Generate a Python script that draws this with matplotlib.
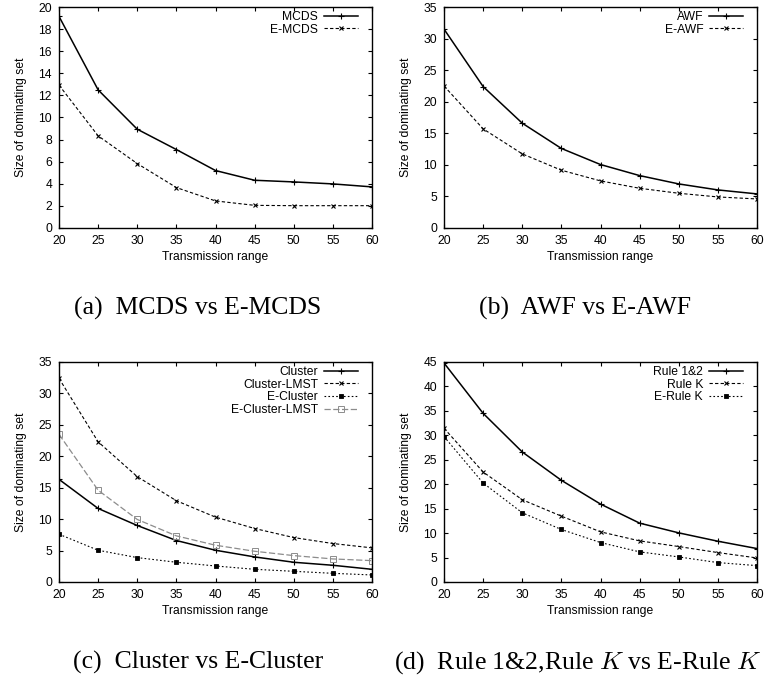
import numpy as np
import matplotlib.pyplot as plt

plt.rcParams['font.family'] = ['Liberation Sans', 'DejaVu Sans']
plt.rcParams['mathtext.fontset'] = 'cm'

# transmission range (x axis for all panels)
tx_range = [20, 25, 30, 35, 40, 45, 50, 55, 60]

# (a) MCDS vs E-MCDS
mcds = [19.15, 12.5, 8.94, 7.1, 5.2, 4.32, 4.17, 3.99, 3.72]
e_mcds = [12.93, 8.34, 5.83, 3.66, 2.45, 2.05, 2.02, 2.02, 2.02]

# (b) AWF vs E-AWF
awf = [31.5, 22.4, 16.6, 12.6, 10.05, 8.3, 6.98, 6.03, 5.4]
e_awf = [22.5, 15.7, 11.74, 9.15, 7.46, 6.29, 5.5, 4.92, 4.6]

# (c) Cluster vs E-Cluster
cluster = [16.33, 11.7, 8.99, 6.6, 5.05, 3.99, 3.14, 2.66, 2.02]
cluster_lmst = [32.4, 22.3, 16.76, 12.93, 10.32, 8.51, 7.07, 6.12, 5.43]
e_cluster = [7.6, 5.05, 3.88, 3.14, 2.55, 2.02, 1.7, 1.38, 1.12]
e_cluster_lmst = [23.5, 14.6, 9.95, 7.34, 5.85, 4.89, 4.2, 3.67, 3.4]

# (d) Rule 1&2, Rule K vs E-Rule K
rule12 = [44.8, 34.5, 26.6, 20.8, 15.94, 12.04, 10.05, 8.34, 6.84]
rule_k = [31.46, 22.5, 16.83, 13.47, 10.26, 8.41, 7.25, 6.02, 4.92]
e_rule_k = [29.75, 20.25, 14.16, 10.74, 8.07, 6.16, 5.13, 3.97, 3.35]

captions = ['(a)  MCDS vs E-MCDS', '(b)  AWF vs E-AWF',
            '(c)  Cluster vs E-Cluster',
            '(d)  Rule 1&2,Rule $K$ vs E-Rule $K$']

# gnuplot-like line types
styles = [
    dict(color='black', lw=1.1, ls='-', marker='+', ms=5, mew=0.8),
    dict(color='black', lw=0.8, ls=(0, (3, 2)), marker='x', ms=3.5, mew=0.8),
    dict(color='black', lw=0.8, ls=(0, (1.5, 2)), marker='s', ms=2.5, mew=0.6),
    dict(color='#8c8c8c', lw=0.9, ls=(0, (5, 2)), marker='s', ms=4, mew=0.7,
         mfc='none'),
]

panels = [
    ([mcds, e_mcds], ['MCDS', 'E-MCDS'], 20, 2),
    ([awf, e_awf], ['AWF', 'E-AWF'], 35, 5),
    ([cluster, cluster_lmst, e_cluster, e_cluster_lmst],
     ['Cluster', 'Cluster-LMST', 'E-Cluster', 'E-Cluster-LMST'], 35, 5),
    ([rule12, rule_k, e_rule_k], ['Rule 1&2', 'Rule K', 'E-Rule K'], 45, 5),
]

W, H = 775, 679
fig = plt.figure(figsize=(W / 100, H / 100), dpi=100)

# axes boxes in pixels: left, top, right, bottom
boxes = [(59, 7, 372, 228), (444, 7, 757, 228),
         (59, 362, 372, 582), (444, 362, 757, 582)]
cap_pos = [(198, 315), (585, 315), (198, 669), (578, 669)]

for i, (series, labels, ymax, ystep) in enumerate(panels):
    l, t, r, b = boxes[i]
    ax = fig.add_axes([l / W, 1 - b / H, (r - l) / W, (b - t) / H])
    for j, ys in enumerate(series):
        ax.plot(tx_range, ys, label=labels[j], **styles[j])
    ax.set_xlim(20, 60)
    ax.set_ylim(0, ymax)
    ax.set_xticks(tx_range)
    ax.set_yticks(np.arange(0, ymax + 0.1, ystep))
    ax.tick_params(direction='in', top=True, right=True, length=3,
                   width=0.8, labelsize=8.7, pad=5)
    for s in ax.spines.values():
        s.set_linewidth(1.0)
    ax.set_xlabel('Transmission range', fontsize=8.7, labelpad=3)
    ax.set_ylabel('Size of dominating set', fontsize=8.7, labelpad=8)
    ax.legend(loc='upper right', frameon=False, markerfirst=False,
              fontsize=8.7, handlelength=2.8, handletextpad=0.5,
              labelspacing=0.05, borderpad=0.0, borderaxespad=0.0,
              numpoints=1,
              bbox_to_anchor=(1 - 14 / (r - l), 1 - 4 / (b - t)))
    cx, cy = cap_pos[i]
    fig.text(cx / W, 1 - cy / H, captions[i], ha='center', va='baseline',
             fontsize=18.5, family=['Liberation Serif', 'DejaVu Serif'])

fig.savefig('out.png', dpi=100)
plt.close(fig)
